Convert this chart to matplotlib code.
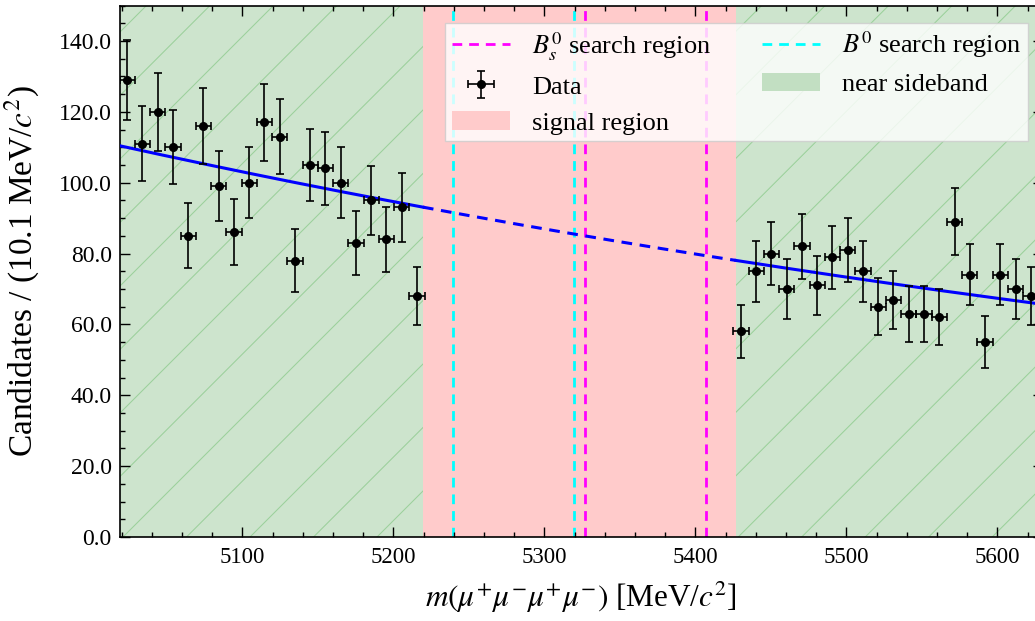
import numpy as np
import matplotlib
matplotlib.use("Agg")
import matplotlib.pyplot as plt
from matplotlib.lines import Line2D
from matplotlib.patches import Patch
from matplotlib.collections import LineCollection
from matplotlib import transforms

# ---------------- data ----------------
bin_width = 10.1
left_start = 5018.7     # lower edge of first left-sideband bin
right_start = 5425.2    # lower edge of first right-sideband bin
left_counts = [129, 111, 120, 110, 85, 116, 99, 86, 100, 117,
               113, 78, 105, 104, 100, 83, 95, 84, 93, 68]
right_counts = [58, 75, 80, 70, 82, 71, 79, 81, 75, 65,
                67, 63, 63, 62, 89, 74, 55, 74, 70, 68]

signal_region = (5219.6, 5426.9)
b0_window = (5239.6, 5319.6)
bs_window = (5326.9, 5406.9)

fit_amp = 110.4        # fit value at x_ref
fit_ref = 5019.0
fit_slope = -0.00085   # exponential slope (1/MeV)

xlim = (5019.0, 5630.0)
ylim = (0, 150)

# ---------------- style ----------------
plt.rcParams['font.family'] = ['Liberation Serif', 'DejaVu Serif']
plt.rcParams['mathtext.fontset'] = 'stix'

W, H, DPI = 1035, 621, 100
fig = plt.figure(figsize=(W / DPI, H / DPI), dpi=DPI)
px_per_mev = 1.51
ax_left = 120 / W
ax_bottom = (H - 537) / H
ax_h = (537 - 5.5) / H
ax_w = (xlim[1] - xlim[0]) * px_per_mev / W
ax = fig.add_axes([ax_left, ax_bottom, ax_w, ax_h])
ax.set_xlim(*xlim)
ax.set_ylim(*ylim)

green_fill = '#cde4cd'
hatch_col = '#9bd09b'
pink_fill = '#ffcbcb'

side_l = ax.axvspan(xlim[0], signal_region[0], facecolor=green_fill, edgecolor='none', zorder=0)
side_r = ax.axvspan(signal_region[1], xlim[1], facecolor=green_fill, edgecolor='none', zorder=0)
sig = ax.axvspan(signal_region[0], signal_region[1], facecolor=pink_fill, edgecolor='none', zorder=0)

# sparse diagonal hatch, drawn in pixel space and clipped to sideband patches
def add_hatch(patch, x0, spacing=63.5):
    y0 = H - 537  # display y of axes bottom
    segs = []
    for k in range(-30, 30):
        xb = x0 + k * spacing
        segs.append([(xb - y0 - 50, -50), (xb - y0 + H + 50, H + 50)])
    lc = LineCollection(segs, colors=hatch_col, linewidths=0.75,
                        transform=transforms.IdentityTransform(), zorder=0.5)
    ax.add_collection(lc, autolim=False)
    lc.set_clip_path(patch)

add_hatch(side_l, 123)
add_hatch(side_r, 801.7)

# search-region lines
for xv in b0_window:
    ax.axvline(xv, color='cyan', ls=(0, (3.5, 2.5)), lw=2, zorder=1)
for xv in bs_window:
    ax.axvline(xv, color='magenta', ls=(0, (3.5, 2.5)), lw=2, zorder=1)

# fit line
def fit(x):
    return fit_amp * np.exp(fit_slope * (x - fit_ref))

xl = np.linspace(xlim[0], signal_region[0], 200)
xm = np.linspace(signal_region[0], signal_region[1], 200)
xr = np.linspace(signal_region[1], xlim[1], 200)
ax.plot(xl, fit(xl), color='blue', lw=2.2, zorder=3)
ax.plot(xm, fit(xm), color='blue', lw=2.2, ls=(0, (3.5, 2.5)), zorder=3)
ax.plot(xr, fit(xr), color='blue', lw=2.2, zorder=3)

# data
lc_x = left_start + bin_width * (np.arange(len(left_counts)) + 0.5)
rc_x = right_start + bin_width * (np.arange(len(right_counts)) + 0.5)
xs = np.concatenate([lc_x, rc_x])
ys = np.array(left_counts + right_counts, dtype=float)
eb = ax.errorbar(xs, ys, yerr=np.sqrt(ys), xerr=bin_width / 2, fmt='o', color='black',
                 ms=5.5, elinewidth=1.2, capsize=3, capthick=1.2, zorder=4)

# axes styling
ax.set_xticks([5100, 5200, 5300, 5400, 5500, 5600])
ax.set_xticks(np.arange(5020, 5640, 20), minor=True)
ax.set_yticks(np.arange(0, 141, 20))
ax.set_yticks(np.arange(0, 151, 5), minor=True)
ax.set_yticklabels([f"{v:.1f}" for v in np.arange(0, 141, 20)])
ax.tick_params(which='both', direction='in', top=True, right=True, width=1)
ax.tick_params(which='major', length=7)
ax.tick_params(which='minor', length=3.6)
ax.tick_params(axis='x', labelsize=16.5, pad=7)
ax.tick_params(axis='y', labelsize=17, pad=6)
for s in ax.spines.values():
    s.set_linewidth(1.2)

ax.set_xlabel(r'$m(\mu^{+}\mu^{-}\mu^{+}\mu^{-})$ [MeV/$c^2$]', fontsize=22.5, labelpad=9)
ax.set_ylabel(r'Candidates / (10.1 MeV/$c^2$)', fontsize=24, labelpad=12)

# legend
h_bs = Line2D([], [], color='magenta', ls=(0, (3.5, 2.5)), lw=2)
h_b0 = Line2D([], [], color='cyan', ls=(0, (3.5, 2.5)), lw=2)
h_sig = Patch(facecolor=pink_fill, edgecolor='none')
h_side = Patch(facecolor='#c2dfc2', edgecolor='none')
leg = ax.legend([h_bs, eb, h_sig, h_b0, h_side],
                [r'$B_s^0$ search region', 'Data', 'signal region',
                 r'$B^0$ search region', 'near sideband'],
                ncol=2, loc='upper right', bbox_to_anchor=(0.984, 0.967),
                borderaxespad=0, fontsize=19, framealpha=0.8, fancybox=False,
                edgecolor='#cccccc', labelspacing=0.48, columnspacing=1.9,
                handlelength=2.2, handletextpad=0.85, borderpad=0.25)
leg.set_zorder(5)

fig.savefig('out.png', dpi=DPI)
